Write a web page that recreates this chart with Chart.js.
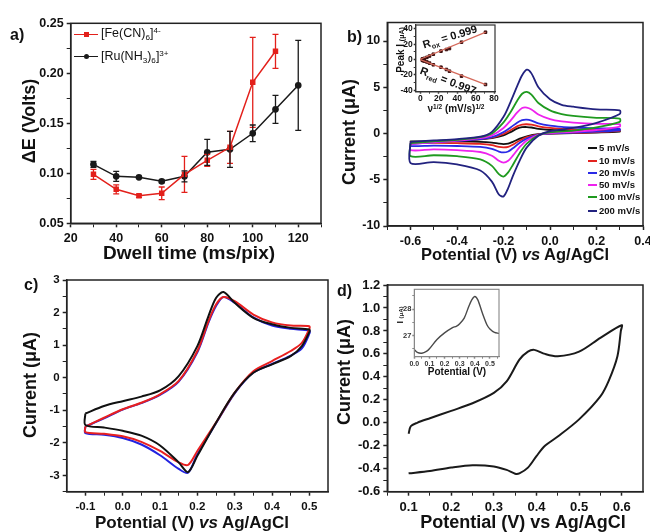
<!DOCTYPE html>
<html>
<head>
<meta charset="utf-8">
<script src="https://cdn.jsdelivr.net/npm/chart.js@4.4.1/dist/chart.umd.min.js"></script>
<style>
  body { margin: 0; width: 650px; height: 532px; overflow: hidden; background: #fff; position: relative;
         font-family: "Liberation Sans", Arial, sans-serif; color: #111; }
  .box { position: absolute; }
  .t { position: absolute; white-space: nowrap; font-weight: bold; line-height: 1; }
  .ctr { transform: translate(-50%, -50%); }
  .rot { transform: translate(-50%, -50%) rotate(-90deg); }
  sub { font-size: 65%; vertical-align: baseline; position: relative; top: .35em; }
  sup { font-size: 65%; vertical-align: baseline; position: relative; top: -.5em; }
  .sw { position: absolute; height: 2px; }
</style>
</head>
<body>
<div class="box" id="pa"><canvas id="ca"></canvas></div>
<div class="box" id="pb"><canvas id="cb"></canvas></div>
<div class="box" id="pc"><canvas id="cc"></canvas></div>
<div class="box" id="pd"><canvas id="cd"></canvas></div>
<div class="box" id="pbi"><canvas id="cbi"></canvas></div>
<div class="box" id="pdi"><canvas id="cdi"></canvas></div>

<!-- panel letters -->
<div class="t" style="left:10px;top:27px;font-size:16px">a)</div>
<div class="t" style="left:347px;top:29px;font-size:16px">b)</div>
<div class="t" style="left:24px;top:277px;font-size:16px">c)</div>
<div class="t" style="left:337px;top:283px;font-size:16px">d)</div>

<!-- axis titles -->
<div class="t rot" style="left:29px;top:121px;font-size:18px">ΔE (Volts)</div>
<div class="t ctr" style="left:189px;top:252px;font-size:19px">Dwell time (ms/pix)</div>
<div class="t rot" style="left:349px;top:132px;font-size:18px">Current (μA)</div>
<div class="t ctr" style="left:515px;top:254px;font-size:16.5px">Potential (V) <i>vs</i> Ag/AgCl</div>
<div class="t rot" style="left:30px;top:385px;font-size:18px">Current (μA)</div>
<div class="t ctr" style="left:192px;top:522px;font-size:17px">Potential (V) <i>vs</i> Ag/AgCl</div>
<div class="t rot" style="left:344px;top:372px;font-size:18px">Current (μA)</div>
<div class="t ctr" style="left:523px;top:522px;font-size:18px">Potential (V) vs Ag/AgCl</div>

<!-- inset b texts -->
<div class="t rot" style="left:401px;top:50px;font-size:10px">Peak I <span style="font-size:7px">(μA)</span></div>
<div class="t ctr" style="left:456px;top:109px;font-size:10px">ν<sup>1/2</sup> (mV/s)<sup>1/2</sup></div>
<div class="t ctr" style="left:450px;top:37px;font-size:11px;transform:translate(-50%,-50%) rotate(-17deg)">R<sub>ox</sub> = 0.999</div>
<div class="t ctr" style="left:448px;top:81px;font-size:11px;transform:translate(-50%,-50%) rotate(21deg)">R<sub>red</sub> = 0.997</div>

<!-- inset d texts -->
<div class="t rot" style="left:400px;top:315px;font-size:9px">I <span style="font-size:6px">(μA)</span></div>
<div class="t ctr" style="left:457px;top:372px;font-size:10px">Potential (V)</div>

<div id="legA"></div>
<div id="legB"></div>

<script>
// ---- panel a: peak separation vs dwell time
const DWELL = [30, 40, 50, 60, 70, 80, 90, 100, 110, 120];
const FE_DE = [0.099, 0.084, 0.0775, 0.080, 0.099, 0.113, 0.126, 0.191, 0.222];
const FE_ERR = [0.005, 0.0045, 0.0015, 0.0063, 0.018, 0.006, 0.016, 0.045, 0.017];
const RU_DE = [0.109, 0.097, 0.096, 0.092, 0.097, 0.121, 0.124, 0.140, 0.164, 0.188];
const RU_ERR = [0.003, 0.005, 0.001, 0.0015, 0.0055, 0.013, 0.018, 0.0083, 0.014, 0.045];

// ---- panel b: CVs at several scan rates
const SCAN_LABELS = ["5 mV/s", "10 mV/s", "20 mV/s", "50 mV/s", "100 mV/s", "200 mV/s"];
const SCAN_COLORS = ["#111111", "#e3231f", "#2a2ae6", "#ee22ee", "#1f9a1f", "#22227f"];
const B_FWD_V = [-0.6, -0.5, -0.4, -0.3, -0.25, -0.2, -0.17, -0.14, -0.12, -0.1, -0.08, -0.05, 0, 0.05, 0.1, 0.2, 0.3];
const B_REV_V = [0.3, 0.2, 0.1, 0, -0.05, -0.1, -0.13, -0.16, -0.18, -0.2, -0.22, -0.25, -0.3, -0.4, -0.5, -0.6];
const I_FWD_5 = [-0.9, -0.8, -0.72, -0.62, -0.5, -0.2, 0.15, 0.55, 0.68, 0.7, 0.65, 0.5, 0.38, 0.32, 0.3, 0.28, 0.3];
const I_REV_5 = [0.2, 0.1, 0.04, 0, -0.08, -0.3, -0.55, -0.9, -1.1, -1.15, -1.1, -0.98, -0.9, -0.85, -0.82, -0.85];
const I_FWD_10 = [-1.0, -0.85, -0.75, -0.6, -0.45, -0.05, 0.35, 0.8, 0.97, 1.0, 0.95, 0.78, 0.6, 0.5, 0.45, 0.4, 0.4];
const I_REV_10 = [0.28, 0.15, 0.06, 0, -0.1, -0.4, -0.75, -1.2, -1.45, -1.5, -1.45, -1.25, -1.12, -1.05, -1.02, -1.05];
const I_FWD_20 = [-1.15, -0.95, -0.8, -0.6, -0.4, 0.15, 0.65, 1.2, 1.45, 1.5, 1.4, 1.1, 0.85, 0.72, 0.65, 0.55, 0.5];
const I_REV_20 = [0.35, 0.2, 0.1, 0, -0.12, -0.55, -1.0, -1.6, -1.95, -2.05, -1.95, -1.65, -1.45, -1.35, -1.3, -1.35];
const I_FWD_50 = [-1.15, -0.95, -0.78, -0.5, -0.2, 0.6, 1.4, 2.3, 2.75, 2.8, 2.6, 2.05, 1.55, 1.3, 1.18, 1.05, 1.0];
const I_REV_50 = [0.75, 0.38, 0.18, 0.05, -0.15, -0.75, -1.45, -2.4, -2.95, -3.15, -2.95, -2.4, -2.0, -1.8, -1.72, -1.8];
const I_FWD_100 = [-1.05, -0.85, -0.68, -0.4, 0, 1.2, 2.3, 3.6, 4.3, 4.5, 4.2, 3.3, 2.5, 2.1, 1.9, 1.7, 1.6];
const I_REV_100 = [1.25, 0.65, 0.32, 0.12, -0.2, -1.1, -2.1, -3.4, -4.2, -4.65, -4.4, -3.5, -2.8, -2.45, -2.35, -2.45];
const I_FWD_200 = [-0.9, -0.75, -0.6, -0.35, 0.18, 1.8, 3.4, 5.2, 6.3, 6.9, 6.5, 5.0, 3.7, 3.1, 2.9, 2.6, 2.5];
const I_REV_200 = [2.1, 1.15, 0.6, 0.25, -0.25, -1.5, -2.9, -4.6, -5.9, -6.8, -6.6, -5.2, -4.0, -3.35, -3.1, -3.2];

// ---- inset b: peak current vs sqrt(scan rate)
const SQRT_RATE = [2.2, 3.2, 4.5, 7.1, 10, 14.1, 22.4, 28.3, 31.6, 44.7, 70.7];
const PEAK_OX = [0.7, 1.0, 1.5, 2.8, 4.5, 6.9, 10.9, 13.0, 14.3, 22.6, 35.6];
const PEAK_RED = [-1.15, -1.5, -2.05, -3.2, -4.7, -6.9, -10.0, -13.0, -15.2, -21.7, -32.6];
const FIT_X = [0, 71];
const FIT_OX = [0.3, 35.8];
const FIT_RED = [-0.3, -32.8];

// ---- panel c: three repeated CVs
const C_FWD_V = [-0.1, -0.05, 0.0, 0.05, 0.1, 0.15, 0.2, 0.23, 0.25, 0.27, 0.3, 0.35, 0.4, 0.45, 0.5];
const C_REV_V = [0.5, 0.48, 0.45, 0.4, 0.35, 0.3, 0.25, 0.2, 0.175, 0.15, 0.1, 0.05, 0.0, -0.05, -0.1];
const C_FWD_BLACK = [-1.1, -0.87, -0.72, -0.58, -0.39, 0.05, 0.97, 1.9, 2.45, 2.63, 2.3, 1.84, 1.64, 1.53, 1.48];
const C_REV_BLACK = [1.4, 0.97, 0.66, 0.41, 0.15, -0.46, -1.38, -2.4, -2.9, -2.6, -2.08, -1.78, -1.63, -1.53, -1.45];
const C_FWD_RED = [-1.5, -1.23, -0.97, -0.77, -0.51, -0.1, 0.82, 1.74, 2.25, 2.48, 2.35, 1.94, 1.7, 1.6, 1.58];
const C_REV_RED = [1.5, 1.07, 0.82, 0.51, 0.2, -0.46, -1.38, -2.25, -2.68, -2.6, -2.25, -1.97, -1.8, -1.72, -1.67];
const C_FWD_BLUE = [-1.5, -1.25, -0.98, -0.78, -0.53, -0.12, 0.78, 1.7, 2.2, 2.48, 2.3, 1.85, 1.6, 1.5, 1.45];
const C_REV_BLUE = [1.35, 0.9, 0.68, 0.42, 0.16, -0.48, -1.4, -2.35, -2.92, -2.8, -2.38, -2.05, -1.85, -1.75, -1.7];

// ---- panel d: single CV + inset
const D_FWD_V = [0.1, 0.105, 0.12, 0.15, 0.2, 0.25, 0.3, 0.33, 0.36, 0.38, 0.395, 0.42, 0.45, 0.5, 0.55, 0.6];
const D_FWD_I = [-0.096, -0.03, 0.0, 0.04, 0.104, 0.17, 0.26, 0.36, 0.55, 0.62, 0.635, 0.6, 0.58, 0.62, 0.74, 0.85];
const D_REV_V = [0.598, 0.59, 0.57, 0.55, 0.5, 0.45, 0.42, 0.4, 0.38, 0.36, 0.35, 0.33, 0.3, 0.25, 0.2, 0.15, 0.1];
const D_REV_I = [0.8, 0.58, 0.37, 0.23, 0.03, -0.12, -0.2, -0.29, -0.39, -0.44, -0.443, -0.41, -0.38, -0.37, -0.39, -0.42, -0.44];
const DI_V = [0.0, 0.02, 0.05, 0.08, 0.1, 0.15, 0.2, 0.25, 0.28, 0.3, 0.33, 0.36, 0.38, 0.4, 0.42, 0.45, 0.48, 0.5, 0.53, 0.56];
const DI_I = [26.47, 26.36, 26.33, 26.4, 26.5, 26.85, 27.1, 27.29, 27.36, 27.45, 27.66, 28.1, 28.35, 28.48, 28.35, 27.85, 27.41, 27.25, 27.12, 27.08];

const FONT = '"Liberation Sans", Arial, sans-serif';

function near(list, v) {
  return list.some((m) => Math.abs(m - v) < 1e-9);
}

function pts(xs, ys) {
  return ys.map((y, i) => ({ x: xs[i], y }));
}

function loop(fv, fi, rv, ri, close) {
  const p = pts(fv, fi).concat(pts(rv, ri));
  if (close) p.push(p[0]);
  return p;
}

function axis(min, max, major, minor, fmt, size, o = {}) {
  const all = major.concat(minor).sort((p, q) => p - q);
  return {
    type: "linear",
    min,
    max,
    afterBuildTicks: (s) => {
      s.ticks = all.map((v) => ({ value: v }));
    },
    ticks: {
      autoSkip: false,
      maxRotation: 0,
      minRotation: 0,
      padding: o.pad ?? 3,
      color: o.color || "#111",
      font: { family: FONT, size, weight: "bold" },
      callback: (v) => (near(major, v) ? fmt(v) : ""),
    },
    grid: {
      drawOnChartArea: false,
      drawTicks: true,
      tickLength: o.tick ?? 4,
      color: o.line || "#222",
      tickWidth: (c) => (c.tick && near(major, c.tick.value) ? 1.5 : 1),
    },
    border: { display: true, color: o.line || "#222", width: o.bw ?? 1.5 },
  };
}

const framePlugin = {
  id: "frame",
  afterDraw(chart, args, opts) {
    const { ctx, chartArea: a } = chart;
    ctx.save();
    ctx.strokeStyle = opts.color || "#222";
    ctx.lineWidth = opts.width || 1.5;
    ctx.strokeRect(a.left, a.top, a.right - a.left, a.bottom - a.top);
    ctx.restore();
  },
};

const errorBarPlugin = {
  id: "errorBars",
  afterDatasetsDraw(chart) {
    const { ctx } = chart;
    const xs = chart.scales.x;
    const ys = chart.scales.y;
    chart.data.datasets.forEach((ds) => {
      if (!ds.errors) return;
      ctx.save();
      ctx.strokeStyle = ds.borderColor;
      ctx.lineWidth = 1.3;
      ds.data.forEach((p, i) => {
        const e = ds.errors[i];
        const px = xs.getPixelForValue(p.x);
        const top = ys.getPixelForValue(p.y + e);
        const bot = ys.getPixelForValue(p.y - e);
        ctx.beginPath();
        ctx.moveTo(px, top);
        ctx.lineTo(px, bot);
        ctx.moveTo(px - 3, top);
        ctx.lineTo(px + 3, top);
        ctx.moveTo(px - 3, bot);
        ctx.lineTo(px + 3, bot);
        ctx.stroke();
      });
      ctx.restore();
    });
  },
};

// area = plot rectangle on the page, region = [x0, y0, x1, y1] of the canvas
function plot(boxId, canvasId, area, region, datasets, xAx, yAx, frame) {
  const box = document.getElementById(boxId);
  box.style.left = region[0] + "px";
  box.style.top = region[1] + "px";
  box.style.width = region[2] - region[0] + "px";
  box.style.height = region[3] - region[1] + "px";
  xAx.afterFit = (s) => {
    s.height = region[3] - area.b;
    s.paddingLeft = 0;
    s.paddingRight = 0;
  };
  yAx.afterFit = (s) => {
    s.width = area.l - region[0];
    s.paddingTop = 0;
    s.paddingBottom = 0;
  };
  return new Chart(document.getElementById(canvasId), {
    type: "scatter",
    data: { datasets },
    options: {
      responsive: true,
      maintainAspectRatio: false,
      animation: false,
      events: [],
      layout: {
        autoPadding: false,
        padding: { left: 0, top: area.t - region[1], right: region[2] - area.r, bottom: 0 },
      },
      plugins: { legend: { display: false }, tooltip: { enabled: false }, frame: frame || {} },
      scales: { x: xAx, y: yAx },
    },
    plugins: [framePlugin, errorBarPlugin],
  });
}

function curve(data, color, width) {
  return {
    data,
    showLine: true,
    borderColor: color,
    borderWidth: width,
    pointRadius: 0,
    tension: 0.3,
  };
}

// ---------- panel a
plot(
  "pa", "ca",
  { l: 70.7, t: 23.3, r: 321, b: 223.3 },
  [18, 15, 330, 246],
  [
    {
      data: pts(DWELL, FE_DE),
      errors: FE_ERR,
      showLine: true,
      borderColor: "#e3201b",
      backgroundColor: "#e3201b",
      borderWidth: 1.5,
      pointStyle: "rect",
      pointRadius: 2.8,
      tension: 0,
    },
    {
      data: pts(DWELL, RU_DE),
      errors: RU_ERR,
      showLine: true,
      borderColor: "#1a1a1a",
      backgroundColor: "#1a1a1a",
      borderWidth: 1.5,
      pointStyle: "circle",
      pointRadius: 2.6,
      tension: 0,
    },
  ],
  axis(20, 130, [20, 40, 60, 80, 100, 120], [30, 50, 70, 90, 110, 130], (v) => String(v), 12.5, { pad: 4 }),
  axis(0.05, 0.25, [0.05, 0.1, 0.15, 0.2, 0.25], [0.075, 0.125, 0.175, 0.225], (v) => v.toFixed(2), 12.5)
);

// ---------- panel b
const B_FWD = [I_FWD_5, I_FWD_10, I_FWD_20, I_FWD_50, I_FWD_100, I_FWD_200];
const B_REV = [I_REV_5, I_REV_10, I_REV_20, I_REV_50, I_REV_100, I_REV_200];
plot(
  "pb", "cb",
  { l: 387.3, t: 22.5, r: 643, b: 226 },
  [355, 15, 650, 250],
  SCAN_LABELS.map((lab, k) => curve(loop(B_FWD_V, B_FWD[k], B_REV_V, B_REV[k], true), SCAN_COLORS[k], 1.8)).reverse(),
  axis(-0.7, 0.4, [-0.6, -0.4, -0.2, 0, 0.2, 0.4], [-0.7, -0.5, -0.3, -0.1, 0.1, 0.3], (v) => v.toFixed(1), 12.5, { pad: 4 }),
  axis(-10, 12, [-10, -5, 0, 5, 10], [-7.5, -2.5, 2.5, 7.5], (v) => String(v), 12.5)
);

// ---------- inset b
plot(
  "pbi", "cbi",
  { l: 415.7, t: 25, r: 495, b: 91.7 },
  [398, 20, 505, 102],
  [
    { data: pts(FIT_X, FIT_OX), showLine: true, borderColor: "#d4695a", borderWidth: 1.3, pointRadius: 0 },
    { data: pts(FIT_X, FIT_RED), showLine: true, borderColor: "#d4695a", borderWidth: 1.3, pointRadius: 0 },
    { data: pts(SQRT_RATE, PEAK_OX), showLine: false, pointStyle: "rect", pointRadius: 1.8, backgroundColor: "#3a0c0c", borderColor: "#3a0c0c" },
    { data: pts(SQRT_RATE, PEAK_RED), showLine: false, pointStyle: "rect", pointRadius: 1.8, backgroundColor: "#3a0c0c", borderColor: "#3a0c0c" },
  ],
  axis(-5, 81, [0, 20, 40, 60, 80], [10, 30, 50, 70], (v) => String(v), 8.5, { pad: 0, tick: 2, bw: 1.2, line: "#333" }),
  axis(-42, 45, [-40, -20, 0, 20, 40], [-30, -10, 10, 30], (v) => String(v), 8.5, { pad: 1, tick: 2, bw: 1.2, line: "#333" }),
  { width: 1.2, color: "#333" }
);

// ---------- panel c
plot(
  "pc", "cc",
  { l: 66.7, t: 280, r: 328, b: 491.7 },
  [35, 272, 340, 515],
  [
    curve(loop(C_FWD_V, C_FWD_BLACK, C_REV_V, C_REV_BLACK, true), "#111111", 2),
    curve(loop(C_FWD_V, C_FWD_RED, C_REV_V, C_REV_RED, true), "#e82020", 2),
    curve(loop(C_FWD_V, C_FWD_BLUE, C_REV_V, C_REV_BLUE, true), "#2222e0", 2),
  ],
  axis(-0.15, 0.55, [-0.1, 0, 0.1, 0.2, 0.3, 0.4, 0.5], [-0.05, 0.05, 0.15, 0.25, 0.35, 0.45], (v) => v.toFixed(1), 11.5, { pad: 4 }),
  axis(-3.5, 3, [-3, -2, -1, 0, 1, 2, 3], [-3.5, -2.5, -1.5, -0.5, 0.5, 1.5, 2.5], (v) => String(v), 11.5)
);

// ---------- panel d
plot(
  "pd", "cd",
  { l: 387.3, t: 285, r: 643, b: 491.7 },
  [350, 278, 650, 515],
  [curve(pts(D_FWD_V, D_FWD_I).concat(pts(D_REV_V, D_REV_I)), "#1a1a1a", 2)],
  axis(0.05, 0.65, [0.1, 0.2, 0.3, 0.4, 0.5, 0.6], [0.05, 0.15, 0.25, 0.35, 0.45, 0.55], (v) => v.toFixed(1), 13, { pad: 4 }),
  axis(-0.6, 1.2, [-0.6, -0.4, -0.2, 0, 0.2, 0.4, 0.6, 0.8, 1.0, 1.2], [-0.5, -0.3, -0.1, 0.1, 0.3, 0.5, 0.7, 0.9, 1.1], (v) => v.toFixed(1), 13)
);

// ---------- inset d
plot(
  "pdi", "cdi",
  { l: 414.3, t: 289.3, r: 499, b: 356.7 },
  [398, 287, 505, 366],
  [curve(pts(DI_V, DI_I), "#4a4a4a", 1.4)],
  axis(0, 0.56, [0, 0.1, 0.2, 0.3, 0.4, 0.5], [0.05, 0.15, 0.25, 0.35, 0.45, 0.55], (v) => v.toFixed(1), 7, { pad: 1, tick: 2, bw: 1, line: "#888", color: "#333" }),
  axis(26.2, 28.75, [27, 28], [26.5, 27.5, 28.5], (v) => String(v), 7.5, { pad: 1, tick: 2, bw: 1, line: "#888", color: "#333" }),
  { width: 1.1, color: "#888" }
);

// ---------- legends (HTML so sub/superscripts stay real text)
function legendA() {
  const rows = [
    { y: 34.3, color: "#e3201b", square: true, html: "[Fe(CN)<sub>6</sub>]<sup>4-</sup>" },
    { y: 56.7, color: "#1a1a1a", square: false, html: "[Ru(NH<sub>3</sub>)<sub>6</sub>]<sup>3+</sup>" },
  ];
  const host = document.getElementById("legA");
  rows.forEach((r) => {
    const ln = document.createElement("div");
    ln.className = "sw";
    ln.style.cssText = `left:74px;top:${r.y - 0.75}px;width:24px;height:1.5px;background:${r.color}`;
    const mk = document.createElement("div");
    mk.style.cssText = `position:absolute;left:83.5px;top:${r.y - 2.6}px;width:5.2px;height:5.2px;background:${r.color};border-radius:${r.square ? 0 : 50}%`;
    const tx = document.createElement("div");
    tx.className = "t";
    tx.style.cssText = `left:101px;top:${r.y - 7}px;font-size:12.5px;font-weight:normal`;
    tx.innerHTML = r.html;
    host.append(ln, mk, tx);
  });
}

function legendB() {
  const host = document.getElementById("legB");
  const ys = [148.3, 160.5, 172.8, 185, 197.3, 210.5];
  SCAN_LABELS.forEach((lab, k) => {
    const ln = document.createElement("div");
    ln.className = "sw";
    ln.style.cssText = `left:588px;top:${ys[k] - 1}px;width:9px;background:${SCAN_COLORS[k]}`;
    const tx = document.createElement("div");
    tx.className = "t";
    tx.style.cssText = `left:599px;top:${ys[k] - 5}px;font-size:9.5px`;
    tx.textContent = lab;
    host.append(ln, tx);
  });
}

legendA();
legendB();
</script>
</body>
</html>
